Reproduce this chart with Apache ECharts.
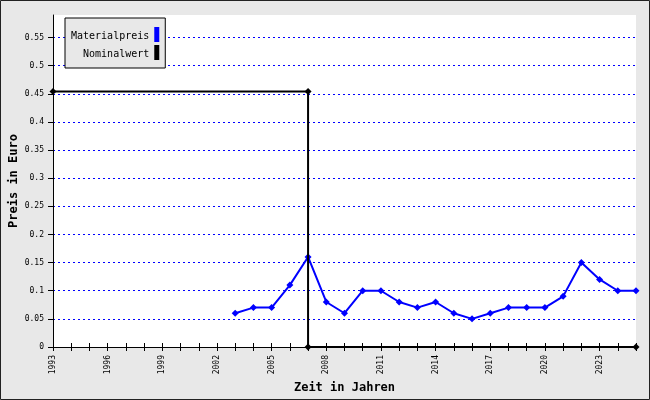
<!DOCTYPE html>
<html><head><meta charset="utf-8">
<script src="https://cdn.jsdelivr.net/npm/echarts@6/dist/echarts.min.js"></script>
<style>html,body{margin:0;padding:0;background:#e8e8e8}#c{width:650px;height:400px}</style>
</head><body><div id="c"></div>
<script>
const years = [2003,2004,2005,2006,2007,2008,2009,2010,2011,2012,2013,2014,2015,2016,2017,2018,2019,2020,2021,2022,2023,2024,2025];
const materialpreis = [0.06,0.07,0.07,0.11,0.16,0.08,0.06,0.10,0.10,0.08,0.07,0.08,0.06,0.05,0.06,0.07,0.07,0.07,0.09,0.15,0.12,0.10,0.10];
const nominalYears = [1993,2007,2007,2025];
const nominalwert = [0.454,0.454,0,0];
const seriesNames = ['Materialpreis','Nominalwert'];
const yTicks = [0,0.05,0.1,0.15,0.2,0.25,0.3,0.35,0.4,0.45,0.5,0.55];
const xTitle = 'Zeit in Jahren';
const yTitle = 'Preis in Euro';

const mono = 'DejaVu Sans Mono';
const gridColors = yTicks.map(()=>'#0000ff').concat(['rgba(0,0,0,0)']);
const chart = echarts.init(document.getElementById('c'), null, {renderer:'canvas'});
chart.setOption({
  backgroundColor:'#e8e8e8',
  animation:false,
  graphic:[{type:'rect',shape:{x:0.5,y:0.5,width:649,height:399},style:{fill:null,stroke:'#222',lineWidth:1},z:100}],
  legend:{
    left:65, top:18, orient:'vertical', align:'right',
    backgroundColor:'#e8e8e8', borderColor:'#000', borderWidth:1,
    padding:[9,6,8,6], itemGap:3, itemWidth:5, itemHeight:15,
    icon:'rect',
    formatter:function(n){ const w=13; return '{a|'+' '.repeat(Math.max(0,w-n.length))+n+'}'; },
    textStyle:{fontFamily:mono,fontSize:10,color:'#000',
      rich:{a:{fontFamily:mono,fontSize:10,color:'#000',padding:[4,0,0,0]}}},
    data:seriesNames
  },
  grid:{left:53,right:14,top:15,bottom:53,show:true,backgroundColor:'#fff',borderWidth:0,outerBoundsMode:'none',containLabel:false},
  xAxis:[{
    type:'value', min:1993, max:2025, interval:1,
    name:xTitle, nameLocation:'middle', nameGap:35, nameMoveOverlap:false,
    nameTextStyle:{fontFamily:mono,fontSize:12,fontWeight:'bold',color:'#000'},
    axisLine:{lineStyle:{color:'#000',width:1}},
    axisTick:{show:true,length:4,lineStyle:{color:'#000'}},
    axisLabel:{rotate:90,margin:8,fontFamily:mono,fontSize:8,color:'#000',
      formatter:function(v){return (v-1993)%3===0?String(v):'';}},
    splitLine:{show:false}
  },{
    type:'value', min:1993, max:2025, interval:1, position:'bottom',
    axisLine:{show:false},
    axisTick:{show:true,inside:true,length:4,lineStyle:{color:'#000'}},
    axisLabel:{show:false}, splitLine:{show:false}
  }],
  yAxis:{
    type:'value', min:0, max:0.59, interval:0.05,
    name:yTitle, nameLocation:'middle', nameGap:33, nameMoveOverlap:false,
    nameTextStyle:{fontFamily:mono,fontSize:12,fontWeight:'bold',color:'#000'},
    axisLine:{show:true,lineStyle:{color:'#000',width:1}},
    axisTick:{show:true,length:5,lineStyle:{color:'#000'},customValues:yTicks},
    axisLabel:{fontFamily:mono,fontSize:8,color:'#000',margin:9,customValues:yTicks,
      formatter:function(v){return String(+v.toFixed(2));}},
    splitLine:{show:true,lineStyle:{color:gridColors,type:[2,3],width:1}}
  },
  series:[{
    name:seriesNames[0], type:'line', clip:false,
    data:years.map((y,i)=>[y,materialpreis[i]]),
    symbol:'diamond', symbolSize:7,
    itemStyle:{color:'#0000ff'}, lineStyle:{color:'#0000ff',width:2}, z:3
  },{
    name:seriesNames[1], type:'line', clip:false,
    data:nominalYears.map((y,i)=>[y,nominalwert[i]]),
    symbol:'diamond', symbolSize:7,
    itemStyle:{color:'#000'}, lineStyle:{color:'#000',width:2}, z:4
  }]
});
</script></body></html>
